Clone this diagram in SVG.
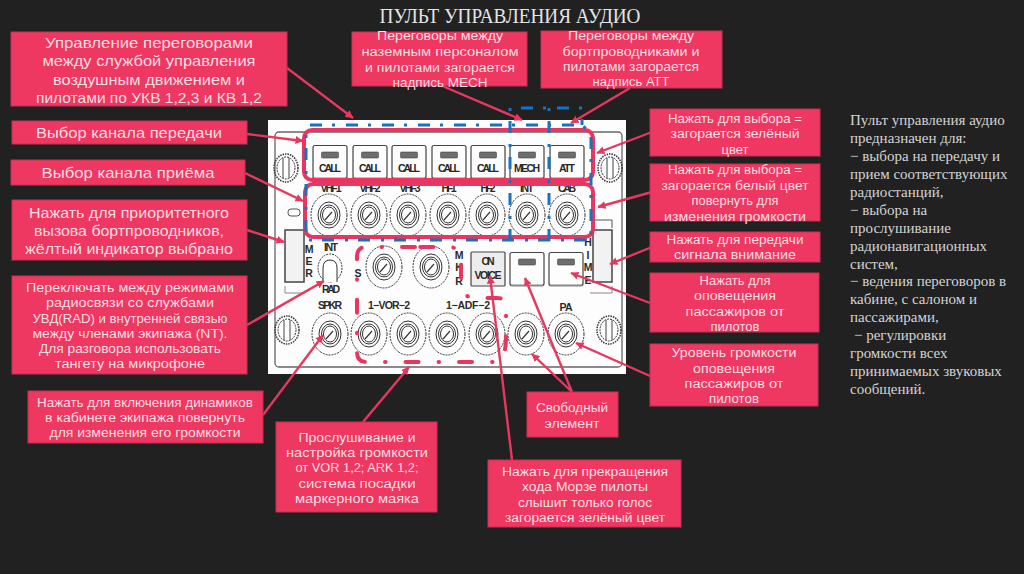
<svg xmlns="http://www.w3.org/2000/svg" width="1024" height="574" viewBox="0 0 1024 574">
<style>
.box{fill:#ee3761;stroke:#c9304f;stroke-width:1}
.t{font-family:"Liberation Sans",Arial,sans-serif;font-size:13px;fill:#f8dfe2;text-anchor:middle}
.b{font-size:14.5px}
.r{font-family:"Liberation Serif",serif;font-size:15px;fill:#d4d4d4}
.p{font-family:"Liberation Sans",sans-serif;font-weight:bold;font-size:10.500px;fill:#2a2a2a;text-anchor:middle}
.k{fill:#fff;stroke:#333;stroke-width:1}
.kd{fill:none;stroke:#333;stroke-width:1;stroke-dasharray:2 1}
.a{fill:none;stroke:#e8375f;stroke-width:2.400;marker-end:url(#ah)}
.pk{fill:none;stroke:#ea3560;stroke-width:4}
.bl{fill:none;stroke:#1273c0;stroke-width:3;stroke-dasharray:12 10 3 11}
.rd{fill:none;stroke:#ea3560;stroke-width:4;stroke-linecap:round;stroke-dasharray:13 20 .5 20}
</style>
<defs>
<marker id="ah" markerWidth="9" markerHeight="9" refX="7.500" refY="4" orient="auto" markerUnits="userSpaceOnUse"><path d="M0,0L8,4L0,8Z" fill="#e8375f"/></marker>
<filter id="soft" x="-2%" y="-2%" width="104%" height="104%"><feGaussianBlur stdDeviation="0.5"/></filter>
<g id="knob">
<ellipse class="kd" rx="18" ry="21"/>
<ellipse class="k" rx="11" ry="13"/>
<ellipse class="k" rx="8.500" ry="10"/>
<ellipse class="k" rx="6.500" ry="8"/>
<path d="M-4,5L3,-3" stroke="#333" fill="none" stroke-width="1.200"/>
</g>
<g id="btn">
<rect x="-17" y="-16.500" width="34" height="33" rx="2" fill="#fdfdfd" stroke="#444" stroke-width="1.200"/>
<path d="M-16,16.500H16" stroke="#888" stroke-width="2"/>
<rect x="-8.500" y="-10" width="17" height="6" rx="1" fill="#6e6e6e" stroke="#444" stroke-width=".6"/>
</g>
<g id="screw">
<ellipse fill="none" stroke="#333" stroke-width="1.500" stroke-dasharray="1.500 1" rx="12" ry="14"/>
<ellipse class="kd" rx="9" ry="11"/>
<path d="M-3,-10V10M3,-10V10" stroke="#444" fill="none" stroke-width="1"/>
</g>
</defs>
<rect width="1024" height="574" fill="#212121"/>
<text x="510" y="23" text-anchor="middle" font-family="Liberation Serif,serif" font-size="21.500" fill="#e4e4e4" textLength="261" lengthAdjust="spacingAndGlyphs">ПУЛЬТ УПРАВЛЕНИЯ АУДИО</text>

<g id="panel">
<g filter="url(#soft)">
<rect x="268" y="120" width="358" height="254" fill="#fdfdfd"/>
<rect x="275" y="132" width="347" height="235" rx="4" fill="none" stroke="#666" stroke-width="1.300"/>
<use href="#screw" x="286" y="168"/><use href="#screw" x="610" y="168"/>
<use href="#screw" x="287" y="330"/><use href="#screw" x="609" y="330"/>
<rect x="288" y="209" width="12" height="7" rx="3" fill="#fff" stroke="#555"/>
<rect x="285" y="230" width="19" height="52" fill="#f2f2f2" stroke="#444" stroke-width="1.500"/>
<rect x="593" y="230" width="19" height="52" fill="#f2f2f2" stroke="#444" stroke-width="1.500"/>
<path d="M285,286V293H305M612,286V293H590" fill="none" stroke="#888"/>
<path d="M590,220H612V228" fill="none" stroke="#555"/>
<use href="#btn" x="330" y="162"/><use href="#btn" x="370" y="162"/><use href="#btn" x="409" y="162"/><use href="#btn" x="449" y="162"/><use href="#btn" x="488" y="162"/><use href="#btn" x="527" y="162"/><use href="#btn" x="567" y="162"/>
<use href="#knob" x="329" y="215"/><use href="#knob" x="369" y="215"/><use href="#knob" x="408" y="215"/><use href="#knob" x="448" y="215"/><use href="#knob" x="487" y="215"/><use href="#knob" x="527" y="215"/><use href="#knob" x="567" y="215"/>
<use href="#knob" x="384" y="267"/><use href="#knob" x="431" y="267"/>
<use href="#knob" x="330" y="334"/><use href="#knob" x="369" y="334"/><use href="#knob" x="408" y="334"/><use href="#knob" x="447" y="334"/><use href="#knob" x="487" y="334"/><use href="#knob" x="526" y="334"/><use href="#knob" x="566" y="334"/>
<ellipse class="kd" cx="330" cy="268" rx="12" ry="14"/>
<path d="M323,282V268Q323,260 330,260Q337,260 337,268V282" fill="#fff" stroke="#333"/>
<rect x="471" y="252" width="34" height="34" rx="1" fill="#ededed" stroke="#444" stroke-width="1.200"/>
<use href="#btn" x="527" y="269"/><use href="#btn" x="566" y="269"/>
</g>
<g id="panel-labels">
<text class="p" x="330" y="172" textLength="22">CALL</text><text class="p" x="370" y="172" textLength="22">CALL</text><text class="p" x="409" y="172" textLength="22">CALL</text><text class="p" x="449" y="172" textLength="22">CALL</text><text class="p" x="488" y="172" textLength="22">CALL</text><text class="p" x="527" y="172" textLength="26">MECH</text><text class="p" x="567" y="172" textLength="16">ATT</text>
<text class="p" x="331" y="192" textLength="21">VHF1</text><text class="p" x="370" y="192" textLength="21">VHF2</text><text class="p" x="410" y="192" textLength="21">VHF3</text><text class="p" x="449" y="192" textLength="15">HF1</text><text class="p" x="488" y="192" textLength="15">HF2</text><text class="p" x="527" y="192" textLength="14">INT</text><text class="p" x="567" y="192" textLength="18">CAB</text>
<text class="p" x="331" y="251" textLength="14">INT</text><text class="p" x="331" y="293" textLength="18">RAD</text>
<text class="p" x="309" y="253">M</text><text class="p" x="309" y="265">E</text><text class="p" x="309" y="277">R</text>
<text class="p" x="588" y="246">H</text><text class="p" x="588" y="259">I</text><text class="p" x="588" y="271">M</text><text class="p" x="588" y="284">E</text>
<text class="p" x="358" y="277">S</text>
<text class="p" x="459" y="259">M</text><text class="p" x="459" y="271">K</text><text class="p" x="459" y="285">R</text>
<text class="p" x="488" y="265" textLength="13">ON</text><text class="p" x="488" y="279" textLength="27">VOICE</text>
<text class="p" x="330" y="309" textLength="24">SPKR</text><text class="p" x="389" y="309" textLength="42">1−VOR−2</text><text class="p" x="468" y="309" textLength="44">1−ADF−2</text><text class="p" x="566" y="311" textLength="13">PA</text>
</g>
</g>

<g id="highlights" filter="url(#soft)">
<rect class="pk" x="304" y="130" width="289" height="50" rx="8"/>
<rect class="pk" x="305" y="184" width="288" height="53" rx="8"/>
<path class="bl" d="M310,125H582L591,133V240H306V125"/>
<path class="bl" d="M510,241V108H582V125M549,241V108"/>
<path class="rd" d="M415,247H366Q357,247 357,257V352Q357,362 367,362H495Q505,362 506,340V306Q506,298 497,298H472Q462,296 461,280V260Q461,248 450,247Z"/>
</g>

<g id="connectors">
<path class="a" d="M287,68L353,118"/>
<path class="a" d="M247,134L303,141"/>
<path class="a" d="M245,173L303,201"/>
<path class="a" d="M247,230L284,242"/>
<path class="a" d="M247,325L324,281"/>
<path class="a" d="M263,415L323,335"/>
<path class="a" d="M363,422L409,367"/>
<path class="a" d="M440,85L522,120"/>
<path class="a" d="M630,88L571,123"/>
<path class="a" d="M652,132L597,153"/>
<path class="a" d="M652,192L598,207"/>
<path class="a" d="M652,247L610,264"/>
<path class="a" d="M650,303L571,273"/>
<path class="a" d="M650,376L576,343"/>
<path class="a" d="M572,392L532,354"/>
<path class="a" d="M572,392L525,278"/>
<path class="a" d="M512,460L490,276"/>
</g>

<g id="n-vhf"><rect class="box" x="11" y="32" width="276" height="74"/>
<text class="t b" x="149" y="48" textLength="208" lengthAdjust="spacingAndGlyphs">Управление переговорами</text>
<text class="t b" x="149" y="66" textLength="213" lengthAdjust="spacingAndGlyphs">между службой управления</text>
<text class="t b" x="149" y="85" textLength="192" lengthAdjust="spacingAndGlyphs">воздушным движением и</text>
<text class="t b" x="149" y="103" textLength="226" lengthAdjust="spacingAndGlyphs">пилотами по УКВ 1,2,3 и КВ 1,2</text></g>
<g id="n-tx"><rect class="box" x="12" y="121" width="235" height="23"/>
<text class="t b" x="129" y="138" textLength="186" lengthAdjust="spacingAndGlyphs">Выбор канала передачи</text></g>
<g id="n-rx"><rect class="box" x="11" y="160" width="234" height="25"/>
<text class="t b" x="128" y="178" textLength="173" lengthAdjust="spacingAndGlyphs">Выбор канала приёма</text></g>
<g id="n-prio"><rect class="box" x="12" y="200" width="235" height="60"/>
<text class="t b" x="129" y="218" textLength="200" lengthAdjust="spacingAndGlyphs">Нажать для приоритетного</text>
<text class="t b" x="129" y="236" textLength="190" lengthAdjust="spacingAndGlyphs">вызова бортпроводников,</text>
<text class="t b" x="129" y="254" textLength="208" lengthAdjust="spacingAndGlyphs">жёлтый индикатор выбрано</text></g>
<g id="n-switch"><rect class="box" x="12" y="276" width="235" height="98"/>
<text class="t" x="130" y="292" textLength="208" lengthAdjust="spacingAndGlyphs">Переключать между режимами</text>
<text class="t" x="130" y="307" textLength="168" lengthAdjust="spacingAndGlyphs">радиосвязи со службами</text>
<text class="t" x="130" y="323" textLength="195" lengthAdjust="spacingAndGlyphs">УВД(RAD) и внутренней связью</text>
<text class="t" x="130" y="338" textLength="195" lengthAdjust="spacingAndGlyphs">между членами экипажа (NT).</text>
<text class="t" x="130" y="353" textLength="182" lengthAdjust="spacingAndGlyphs">Для разговора использовать</text>
<text class="t" x="130" y="368" textLength="150" lengthAdjust="spacingAndGlyphs">тангету на микрофоне</text></g>
<g id="n-spkr"><rect class="box" x="28" y="391" width="235" height="52"/>
<text class="t" x="145" y="407" textLength="216" lengthAdjust="spacingAndGlyphs">Нажать для включения динамиков</text>
<text class="t" x="145" y="422" textLength="200" lengthAdjust="spacingAndGlyphs">в кабинете экипажа повернуть</text>
<text class="t" x="145" y="437" textLength="191" lengthAdjust="spacingAndGlyphs">для изменения его громкости</text></g>
<g id="n-nav"><rect class="box" x="276" y="422" width="161" height="90"/>
<text class="t" x="357" y="442" textLength="117" lengthAdjust="spacingAndGlyphs">Прослушивание и</text>
<text class="t" x="357" y="457" textLength="142" lengthAdjust="spacingAndGlyphs">настройка громкости</text>
<text class="t" x="357" y="472" textLength="123" lengthAdjust="spacingAndGlyphs">от VOR 1,2; ARK 1,2;</text>
<text class="t" x="357" y="488" textLength="117" lengthAdjust="spacingAndGlyphs">система посадки</text>
<text class="t" x="357" y="503" textLength="124" lengthAdjust="spacingAndGlyphs">маркерного маяка</text></g>
<g id="n-free"><rect class="box" x="527" y="392" width="91" height="45"/>
<text class="t" x="572" y="412" textLength="72" lengthAdjust="spacingAndGlyphs">Свободный</text>
<text class="t" x="572" y="428" textLength="55" lengthAdjust="spacingAndGlyphs">элемент</text></g>
<g id="n-morse"><rect class="box" x="488" y="460" width="193" height="67"/>
<text class="t" x="585" y="476" textLength="166" lengthAdjust="spacingAndGlyphs">Нажать для прекращения</text>
<text class="t" x="585" y="491" textLength="126" lengthAdjust="spacingAndGlyphs">хода Морзе пилоты</text>
<text class="t" x="585" y="507" textLength="134" lengthAdjust="spacingAndGlyphs">слышит только голос</text>
<text class="t" x="585" y="522" textLength="160" lengthAdjust="spacingAndGlyphs">загорается зелёный цвет</text></g>
<g id="n-pa"><rect class="box" x="650" y="273" width="169" height="59"/>
<text class="t" x="735" y="285" textLength="71" lengthAdjust="spacingAndGlyphs">Нажать для</text>
<text class="t" x="735" y="300" textLength="82" lengthAdjust="spacingAndGlyphs">оповещения</text>
<text class="t" x="735" y="316" textLength="99" lengthAdjust="spacingAndGlyphs">пассажиров от</text>
<text class="t" x="735" y="331" textLength="49" lengthAdjust="spacingAndGlyphs">пилотов</text></g>
<g id="n-level"><rect class="box" x="650" y="344" width="168" height="62"/>
<text class="t" x="734" y="357" textLength="125" lengthAdjust="spacingAndGlyphs">Уровень громкости</text>
<text class="t" x="734" y="373" textLength="82" lengthAdjust="spacingAndGlyphs">оповещения</text>
<text class="t" x="734" y="388" textLength="99" lengthAdjust="spacingAndGlyphs">пассажиров от</text>
<text class="t" x="734" y="403" textLength="50" lengthAdjust="spacingAndGlyphs">пилотов</text></g>
<g id="n-green"><rect class="box" x="650" y="109" width="170" height="47"/>
<text class="t" x="735" y="123" textLength="134" lengthAdjust="spacingAndGlyphs">Нажать для выбора =</text>
<text class="t" x="735" y="138" textLength="129" lengthAdjust="spacingAndGlyphs">загорается зелёный</text>
<text class="t" x="735" y="154" textLength="27" lengthAdjust="spacingAndGlyphs">цвет</text></g>
<g id="n-white"><rect class="box" x="650" y="164" width="170" height="57"/>
<text class="t" x="735" y="174" textLength="134" lengthAdjust="spacingAndGlyphs">Нажать для выбора =</text>
<text class="t" x="735" y="190" textLength="147" lengthAdjust="spacingAndGlyphs">загорается белый цвет</text>
<text class="t" x="735" y="205" textLength="87" lengthAdjust="spacingAndGlyphs">повернуть для</text>
<text class="t" x="735" y="221" textLength="142" lengthAdjust="spacingAndGlyphs">изменения громкости</text></g>
<g id="n-att"><rect class="box" x="650" y="232" width="170" height="30"/>
<text class="t" x="735" y="244" textLength="137" lengthAdjust="spacingAndGlyphs">Нажать для передачи</text>
<text class="t" x="735" y="259" textLength="122" lengthAdjust="spacingAndGlyphs">сигнала внимание</text></g>
<g id="n-mech"><rect class="box" x="352" y="32" width="175" height="54"/>
<text class="t" x="440" y="40" textLength="126" lengthAdjust="spacingAndGlyphs">Переговоры между</text>
<text class="t" x="440" y="56" textLength="157" lengthAdjust="spacingAndGlyphs">наземным персоналом</text>
<text class="t" x="440" y="72" textLength="150" lengthAdjust="spacingAndGlyphs">и пилотами загорается</text>
<text class="t" x="440" y="87" textLength="95" lengthAdjust="spacingAndGlyphs">надпись МЕСН</text></g>
<g id="n-cabin"><rect class="box" x="541" y="31" width="181" height="57"/>
<text class="t" x="631" y="40" textLength="126" lengthAdjust="spacingAndGlyphs">Переговоры между</text>
<text class="t" x="631" y="56" textLength="137" lengthAdjust="spacingAndGlyphs">бортпроводниками и</text>
<text class="t" x="631" y="71" textLength="136" lengthAdjust="spacingAndGlyphs">пилотами загорается</text>
<text class="t" x="631" y="86" textLength="77" lengthAdjust="spacingAndGlyphs">надпись АТТ</text></g>

<g id="description">
<text class="r" x="850" y="125">Пульт управления аудио</text>
<text class="r" x="850" y="143">предназначен для:</text>
<text class="r" x="850" y="161">− выбора на передачу и</text>
<text class="r" x="850" y="179">прием соответствующих</text>
<text class="r" x="850" y="197">радиостанций,</text>
<text class="r" x="850" y="215">− выбора на</text>
<text class="r" x="850" y="233">прослушивание</text>
<text class="r" x="850" y="251">радионавигационных</text>
<text class="r" x="850" y="269">систем,</text>
<text class="r" x="850" y="286">− ведения переговоров в</text>
<text class="r" x="850" y="304">кабине, с салоном и</text>
<text class="r" x="850" y="322">пассажирами,</text>
<text class="r" x="854" y="340">− регулировки</text>
<text class="r" x="850" y="358">громкости всех</text>
<text class="r" x="850" y="376">принимаемых звуковых</text>
<text class="r" x="850" y="394">сообщений.</text>
</g>
</svg>
